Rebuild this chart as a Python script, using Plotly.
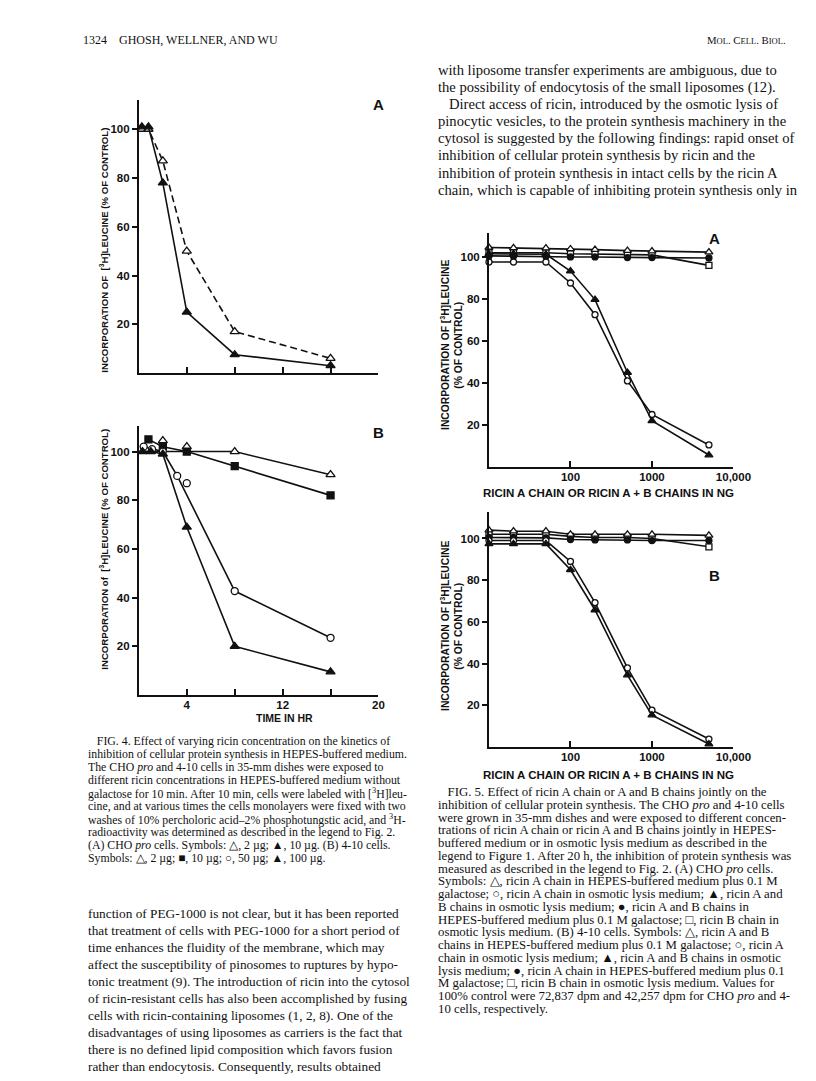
import plotly.graph_objects as go

W, H = 816, 1081

# ---------------- DATA ----------------
# Fig 4A  (CHO pro cells) - time in hr
t4a = [0.25, 0.8, 2, 4, 8, 16]
f4a_open_tri = [100, 100, 87, 50, 17, 6]      # 2 ug
f4a_fill_tri = [101, 101, 78, 25, 7.5, 3]     # 10 ug

# Fig 4B  (4-10 cells)
t4b_open_tri_line = [0.3, 8, 16]
f4b_open_tri_line = [100, 100, 90.5]
t4b_open_tri = [2, 4, 8, 16]
f4b_open_tri = [104.5, 102, 100, 90.5]        # 2 ug
t4b_fill_sq = [0.8, 2, 4, 8, 16]
f4b_fill_sq = [105, 102, 100, 94, 82]         # 10 ug
t4b_open_circ = [0.4, 1.1, 2, 3.2, 8, 16]
f4b_open_circ = [102, 101, 100, 90, 42.7, 23.5]   # 50 ug
t4b_open_circ_extra = [4]
f4b_open_circ_extra = [87]
t4b_fill_tri = [0.3, 1, 2, 4, 8, 16]
f4b_fill_tri = [100, 100, 99, 69, 20, 9.5]    # 100 ug

# Fig 5 - ng of ricin
dose = [10, 20, 50, 100, 200, 500, 1000, 5000]
f5a_open_tri = [104.5, 104.3, 104.2, 103.8, 103.5, 103, 102.8, 102.3]
f5a_open_sq = [102, 102, 102, 101.5, 101.3, 101, 101, 96]
f5a_fill_circ = [100.5, 100.3, 100.3, 100, 100, 99.7, 99.7, 99.5]
f5a_fill_tri = [101.5, 101.5, 101.3, 93.3, 79.7, 45, 22, 5.7]
f5a_open_circ = [97.6, 97.6, 97.6, 87.6, 72.5, 41, 25, 10.5]

f5b_open_tri = [104, 103.5, 103.5, 102, 102, 102, 102, 101.5]
f5b_open_sq = [102, 102, 102, 101, 100.5, 100.5, 100, 96]
f5b_fill_circ = [100.5, 100.5, 100.3, 99.5, 99.3, 99.3, 99, 99]
f5b_open_circ = [99, 99, 99, 89, 69.2, 37.9, 17.7, 3.8]
f5b_fill_tri = [97.4, 97.4, 97.4, 85, 65.7, 34.5, 15.3, 1.4]

x4_ticks = [4, 8, 12, 16, 20]
x4b_ticks = [4, 12, 20]
x4b_minor = [8, 16]
y_ticks = [20, 40, 60, 80, 100]
x5_ticks = [100, 1000, 10000]
x5_ticktext = ["100", "1000", "10,000"]

header_left = "1324    GHOSH, WELLNER, AND WU"
header_right = "M<span style='font-size:8.5px'>OL</span>. C<span style='font-size:8.5px'>ELL</span>. B<span style='font-size:8.5px'>IOL</span>."

right_top_lines = [
    "with liposome transfer experiments are ambiguous, due to",
    "the possibility of endocytosis of the small liposomes (12).",
    "   Direct access of ricin, introduced by the osmotic lysis of",
    "pinocytic vesicles, to the protein synthesis machinery in the",
    "cytosol is suggested by the following findings: rapid onset of",
    "inhibition of cellular protein synthesis by ricin and the",
    "inhibition of protein synthesis in intact cells by the ricin A",
    "chain, which is capable of inhibiting protein synthesis only in",
]
fig4_caption = [
    "   FIG. 4. Effect of varying ricin concentration on the kinetics of",
    "inhibition of cellular protein synthesis in HEPES-buffered medium.",
    "The CHO <i>pro</i> and 4-10 cells in 35-mm dishes were exposed to",
    "different ricin concentrations in HEPES-buffered medium without",
    "galactose for 10 min. After 10 min, cells were labeled with [<sup>3</sup>H]leu-",
    "cine, and at various times the cells monolayers were fixed with two",
    "washes of 10% percholoric acid–2% phosphotungstic acid, and <sup>3</sup>H-",
    "radioactivity was determined as described in the legend to Fig. 2.",
    "(A) CHO <i>pro</i> cells. Symbols: △, 2 µg; ▲, 10 µg. (B) 4-10 cells.",
    "Symbols: △, 2 µg; ■, 10 µg; ○, 50 µg; ▲, 100 µg.",
]
left_body = [
    "function of PEG-1000 is not clear, but it has been reported",
    "that treatment of cells with PEG-1000 for a short period of",
    "time enhances the fluidity of the membrane, which may",
    "affect the susceptibility of pinosomes to ruptures by hypo-",
    "tonic treatment (9). The introduction of ricin into the cytosol",
    "of ricin-resistant cells has also been accomplished by fusing",
    "cells with ricin-containing liposomes (1, 2, 8). One of the",
    "disadvantages of using liposomes as carriers is the fact that",
    "there is no defined lipid composition which favors fusion",
    "rather than endocytosis. Consequently, results obtained",
]
fig5_caption = [
    "   FIG. 5. Effect of ricin A chain or A and B chains jointly on the",
    "inhibition of cellular protein synthesis. The CHO <i>pro</i> and 4-10 cells",
    "were grown in 35-mm dishes and were exposed to different concen-",
    "trations of ricin A chain or ricin A and B chains jointly in HEPES-",
    "buffered medium or in osmotic lysis medium as described in the",
    "legend to Figure 1. After 20 h, the inhibition of protein synthesis was",
    "measured as described in the legend to Fig. 2. (A) CHO <i>pro</i> cells.",
    "Symbols: △, ricin A chain in HEPES-buffered medium plus 0.1 M",
    "galactose; ○, ricin A chain in osmotic lysis medium; ▲, ricin A and",
    "B chains in osmotic lysis medium; ●, ricin A and B chains in",
    "HEPES-buffered medium plus 0.1 M galactose; □, ricin B chain in",
    "osmotic lysis medium. (B) 4-10 cells. Symbols: △, ricin A and B",
    "chains in HEPES-buffered medium plus 0.1 M galactose; ○, ricin A",
    "chain in osmotic lysis medium; ▲, ricin A and B chains in osmotic",
    "lysis medium; ●, ricin A chain in HEPES-buffered medium plus 0.1",
    "M galactose; □, ricin B chain in osmotic lysis medium. Values for",
    "100% control were 72,837 dpm and 42,257 dpm for CHO <i>pro</i> and 4-",
    "10 cells, respectively.",
]

# ---------------- STYLE / LAYOUT HELPERS ----------------
def px(x):
    return x / W

def py(y):
    return 1 - y / H

INK = "#111111"
COND = "Liberation Sans, Arial, sans-serif"
SERIF = "Liberation Serif, Times New Roman, serif"

def mk(symbol, filled, size=8):
    return dict(symbol=symbol, size=size, color=INK if filled else "white",
                line=dict(color=INK, width=1.3))

fig = go.Figure()

def add(x, y, xa, ya, symbol, filled, dash="solid", mode="lines+markers", size=8):
    fig.add_trace(go.Scatter(x=x, y=y, xaxis=xa, yaxis=ya, mode=mode,
                             line=dict(color=INK, width=1.6, dash=dash),
                             marker=mk(symbol, filled, size), showlegend=False,
                             cliponaxis=False, hoverinfo="skip"))

# Fig 4A
add(t4a, f4a_open_tri, "x", "y", "triangle-up", False, dash="7px,4px")
add(t4a, f4a_fill_tri, "x", "y", "triangle-up", True)
# Fig 4B
add(t4b_open_tri_line, f4b_open_tri_line, "x2", "y2", "triangle-up", False, mode="lines")
add(t4b_open_tri, f4b_open_tri, "x2", "y2", "triangle-up", False, mode="markers")
add(t4b_fill_sq, f4b_fill_sq, "x2", "y2", "square", True, size=7)
add(t4b_open_circ, f4b_open_circ, "x2", "y2", "circle", False, size=7)
add(t4b_open_circ_extra, f4b_open_circ_extra, "x2", "y2", "circle", False, mode="markers", size=7)
add(t4b_fill_tri, f4b_fill_tri, "x2", "y2", "triangle-up", True)
# Fig 5A
add(dose, f5a_open_sq, "x3", "y3", "square", False, size=6)
add(dose, f5a_fill_circ, "x3", "y3", "circle", True, size=6)
add(dose, f5a_open_tri, "x3", "y3", "triangle-up", False, size=7)
add(dose, f5a_open_circ, "x3", "y3", "circle", False, size=6)
add(dose, f5a_fill_tri, "x3", "y3", "triangle-up", True, size=7)
# Fig 5B
add(dose, f5b_open_sq, "x4", "y4", "square", False, size=6)
add(dose, f5b_fill_circ, "x4", "y4", "circle", True, size=6)
add(dose, f5b_open_tri, "x4", "y4", "triangle-up", False, size=7)
add(dose, f5b_open_circ, "x4", "y4", "circle", False, size=6)
add(dose, f5b_fill_tri, "x4", "y4", "triangle-up", True, size=7)

tickfont = dict(family=COND, size=11.5, color=INK, weight="bold")

def xax(domain, anchor, rng, tickvals, ticktext=None, show=True, log=False, minor=None):
    d = dict(domain=domain, anchor=anchor, range=rng, showline=True, linecolor=INK,
             linewidth=1.8, ticks="inside", ticklen=6, tickwidth=1.5, tickcolor=INK,
             tickvals=tickvals, showgrid=False, zeroline=False,
             showticklabels=show, tickfont=tickfont, ticklabelstandoff=-2)
    if ticktext is not None:
        d["ticktext"] = ticktext
    if log:
        d["type"] = "log"
    if minor is not None:
        d["minor"] = dict(tickvals=minor, ticks="inside", ticklen=6, tickwidth=1.5,
                          tickcolor=INK, showgrid=False)
    return d

def yax(domain, anchor, rng):
    return dict(domain=domain, anchor=anchor, range=rng, showline=True, linecolor=INK,
                linewidth=1.8, ticks="outside", ticklen=5, tickwidth=1.5, tickcolor=INK,
                tickvals=y_ticks, showgrid=False, zeroline=False, tickfont=tickfont,
                ticklabelstandoff=0)

fig.update_layout(
    width=W, height=H, autosize=False,
    margin=dict(l=0, r=0, t=0, b=0),
    paper_bgcolor="white", plot_bgcolor="rgba(0,0,0,0)",
    xaxis=xax([px(142), px(387)], "y", [0, 20], x4_ticks, show=False),
    yaxis=yax([py(373), py(100)], "x", [0, 112]),
    xaxis2=xax([px(142), px(387)], "y2", [0, 20], x4b_ticks, minor=x4b_minor),
    yaxis2=yax([py(695), py(426)], "x2", [0, 110.5]),
    xaxis3=xax([px(500), px(750)], "y3", [1, 4], x5_ticks, x5_ticktext, log=True),
    yaxis3=yax([py(467), py(233)], "x3", [0, 111.4]),
    xaxis4=xax([px(500), px(750)], "y4", [1, 4], x5_ticks, x5_ticktext, log=True),
    yaxis4=yax([py(747), py(512)], "x4", [0, 112.7]),
)

ann = []

def text(x, y, s, size, family=SERIF, anchor="left", angle=0, weight="normal", yanchor="middle"):
    ann.append(dict(x=px(x), y=py(y), xref="paper", yref="paper", text=s, showarrow=False,
                    xanchor=anchor, yanchor=yanchor, textangle=angle,
                    font=dict(family=family, size=size, color=INK, weight=weight)))

# header
text(83, 40, header_left, 12)
text(806, 40, header_right, 10.8, anchor="right")

# right column body text
for i, s in enumerate(right_top_lines):
    text(446, 70 + 17.1 * i, s, 14.6)

# Fig 4 caption
for i, s in enumerate(fig4_caption):
    text(88, 741 + 13 * i, s, 11.8)

# left body
for i, s in enumerate(left_body):
    text(88, 913 + 17 * i, s, 13.3)

# Fig 5 caption
for i, s in enumerate(fig5_caption):
    text(446, 792 + 12.76 * i, s, 12.8)

# axis titles and panel labels
ytitle4a = "INCORPORATION OF  [<sup>3</sup>H]LEUCINE (% OF CONTROL)"
ytitle4b = "INCORPORATION of  [<sup>3</sup>H]LEUCINE (% OF CONTROL)"
text(106, 250, ytitle4a, 9.6, family=COND, anchor="center", angle=-90, weight="bold")
text(106, 549, ytitle4b, 9.6, family=COND, anchor="center", angle=-90, weight="bold")
text(291, 718, "TIME IN HR", 10.5, family=COND, anchor="center", weight="bold")
text(387, 104, "A", 15, family=COND, anchor="center", weight="bold")
text(387, 432, "B", 15, family=COND, anchor="center", weight="bold")

for cy, bx in [(345, 493), (626, 775)]:
    text(454, cy, "INCORPORATION OF [<sup>3</sup>H]LEUCINE", 10.3, family=COND, anchor="center", angle=-90, weight="bold")
    text(468, cy, "(% OF CONTROL)", 10.3, family=COND, anchor="center", angle=-90, weight="bold")
    text(622, bx, "RICIN A CHAIN OR RICIN A + B CHAINS IN NG", 11.5, family=COND, anchor="center", weight="bold")
text(731, 238, "A", 15, family=COND, anchor="center", weight="bold")
text(731, 575, "B", 15, family=COND, anchor="center", weight="bold")

fig.update_layout(annotations=ann, hovermode=False)
fig.write_html("out.html", config={"displayModeBar": False},
               post_script="document.body.style.margin='0';document.body.style.padding='0';")
